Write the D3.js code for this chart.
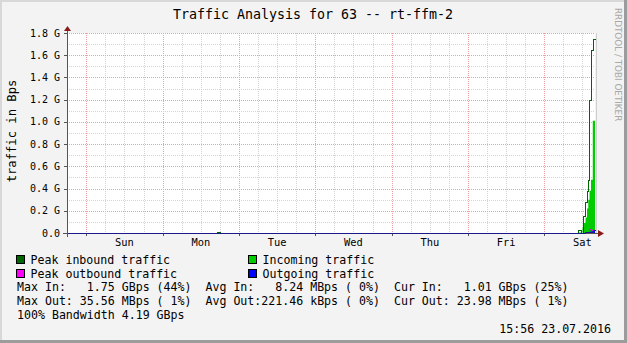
<html>
<head>
<script src="https://d3js.org/d3.v7.min.js"></script>
<style>
body { margin:0; background:#f3f3f3; }
text { font-family:"DejaVu Sans Mono", monospace; fill:#000; }
</style>
</head>
<body>
<script>
// chart data (G = 1e9 Bps)
var startTime = "2016-07-16 17:56", endTime = "2016-07-23 15:56";
var yTicks = [0, 0.2, 0.4, 0.6, 0.8, 1.0, 1.2, 1.4, 1.6, 1.8];

var inTimes  = ["2016-07-16 17:56","2016-07-23 10:32","2016-07-23 11:33","2016-07-23 12:01","2016-07-23 12:29","2016-07-23 12:58","2016-07-23 13:26","2016-07-23 13:49","2016-07-23 14:13","2016-07-23 14:41","2016-07-23 15:14","2016-07-23 15:56"];
var inValues = [0, 0.004, 0, 0.05, 0.09, 0.14, 0.22, 0.30, 0.38, 0.48, 1.01, 1.01];

var peakInTimes  = ["2016-07-16 17:56","2016-07-18 17:06","2016-07-18 18:02","2016-07-23 10:32","2016-07-23 11:33","2016-07-23 12:11","2016-07-23 12:48","2016-07-23 13:17","2016-07-23 13:41","2016-07-23 14:04","2016-07-23 14:45","2016-07-23 15:19","2016-07-23 15:56"];
var peakInValues = [0, 0.012, 0, 0.025, 0, 0.15, 0.28, 0.38, 0.48, 1.2, 1.65, 1.75, 1.75];

var outTimes  = ["2016-07-16 17:56","2016-07-23 12:48","2016-07-23 13:41","2016-07-23 14:13","2016-07-23 15:14","2016-07-23 15:56"];
var outValues = [0, 0.005, 0.01, 0.013, 0.024, 0.024];

var peakOutTimes  = ["2016-07-16 17:56","2016-07-23 12:48","2016-07-23 14:04","2016-07-23 14:45","2016-07-23 15:56"];
var peakOutValues = [0, 0.008, 0.036, 0.026, 0.026];

var legendItems = [
  {label:"Peak inbound traffic", color:"#006600", col:0, row:0},
  {label:"Incoming traffic", color:"#00cc00", col:1, row:0},
  {label:"Peak outbound traffic", color:"#ff00ff", col:0, row:1},
  {label:"Outgoing traffic", color:"#0000ff", col:1, row:1}
];
var statLines = [
  "Max In:   1.75 GBps (44%)  Avg In:   8.24 MBps ( 0%)  Cur In:   1.01 GBps (25%)",
  "Max Out: 35.56 MBps ( 1%)  Avg Out:221.46 kBps ( 0%)  Cur Out: 23.98 MBps ( 1%)",
  "100% Bandwidth 4.19 GBps"
];

var W = 627, H = 343;
var pL = 67, pR = 595, pT = 33, pB = 233;
var parse = d3.timeParse("%Y-%m-%d %H:%M");

var x = d3.scaleTime().domain([parse(startTime), parse(endTime)]).range([pL, pR]);
var y = d3.scaleLinear().domain([0, 1.8]).range([pB, pT]);

function series(times, values) {
  return times.map(function(t, i){ return {t:parse(t), v:values[i]}; });
}

var svg = d3.select("body").append("svg").attr("width", W).attr("height", H);

// frame
svg.append("rect").attr("width", W).attr("height", H).attr("fill", "#f3f3f3");
svg.append("rect").attr("x",0).attr("y",0).attr("width",W).attr("height",2).attr("fill","#d8d8d8");
svg.append("rect").attr("x",0).attr("y",0).attr("width",2).attr("height",H).attr("fill","#d8d8d8");
svg.append("rect").attr("x",W-3).attr("y",0).attr("width",3).attr("height",H).attr("fill","#9c9c9c");
svg.append("rect").attr("x",0).attr("y",H-3).attr("width",W).attr("height",3).attr("fill","#9c9c9c");

// plot background
svg.append("rect").attr("x", pL).attr("y", pT).attr("width", pR-pL).attr("height", pB-pT).attr("fill", "#fff");

// grid
var grid = svg.append("g").attr("shape-rendering", "crispEdges").attr("stroke-width", 1).attr("stroke-dasharray", "1,1");
var minorX = d3.timeHour.every(6).range(x.domain()[0], x.domain()[1]);
grid.selectAll(".vx").data(minorX).enter().append("line")
  .attr("x1", function(d){ return Math.round(x(d))+0.5; }).attr("x2", function(d){ return Math.round(x(d))+0.5; })
  .attr("y1", pT).attr("y2", pB)
  .attr("stroke", function(d){ return d.getHours() === 0 ? "#f0a0a0" : "#d4d4d4"; });
var minorY = d3.range(1, 19).map(function(i){ return i/10; });
grid.selectAll(".hy").data(minorY).enter().append("line")
  .attr("x1", pL).attr("x2", pR)
  .attr("y1", function(d){ return Math.round(y(d))+0.5; }).attr("y2", function(d){ return Math.round(y(d))+0.5; })
  .attr("stroke", function(d, i){ return (i % 2 === 1) ? "#f0a0a0" : "#d4d4d4"; });

// end-of-data marker line
svg.append("line").attr("x1", pR+1.5).attr("x2", pR+1.5).attr("y1", pT).attr("y2", pB)
  .attr("stroke", "#cfcfcf").attr("stroke-width", 1);

// axes
var axes = svg.append("g").attr("shape-rendering", "crispEdges");
axes.append("line").attr("x1", pL+0.5).attr("x2", pL+0.5).attr("y1", pB+4).attr("y2", pT-4).attr("stroke", "#555");
axes.append("line").attr("x1", pL-4).attr("x2", pR+4).attr("y1", pB+0.5).attr("y2", pB+0.5).attr("stroke", "#555");
axes.selectAll(".yt").data(yTicks).enter().append("line")
  .attr("x1", pL-3).attr("x2", pL).attr("y1", function(d){ return Math.round(y(d))+0.5; }).attr("y2", function(d){ return Math.round(y(d))+0.5; })
  .attr("stroke", "#555");
axes.selectAll(".xt").data(d3.timeDay.range(x.domain()[0], x.domain()[1])).enter().append("line")
  .attr("x1", function(d){ return Math.round(x(d))+0.5; }).attr("x2", function(d){ return Math.round(x(d))+0.5; })
  .attr("y1", pB).attr("y2", pB+3).attr("stroke", "#555");
svg.append("path").attr("d", "M"+(pL-3)+","+(pT-2)+"L"+(pL+0.5)+","+(pT-7)+"L"+(pL+4)+","+(pT-2)+"Z").attr("fill", "#8b1a1a");
svg.append("path").attr("d", "M"+(pR+3)+","+(pB-3)+"L"+(pR+9)+","+(pB+0.5)+"L"+(pR+3)+","+(pB+4)+"Z").attr("fill", "#8b1a1a");

// data (lines drawn on pixel centres so overlapping zero lines stack cleanly)
var area = d3.area().curve(d3.curveStepAfter).x(function(d){ return x(d.t); }).y0(y(0)).y1(function(d){ return y(d.v); });
var line = d3.line().curve(d3.curveStepAfter)
  .x(function(d){ return Math.round(x(d.t))+0.5; })
  .y(function(d){ return Math.round(y(d.v))+0.5; });

svg.append("path").datum(series(inTimes, inValues)).attr("d", area).attr("fill", "#00cc00");
svg.append("path").datum(series(outTimes, outValues)).attr("d", area).attr("fill", "#0000ff");
var lines = svg.append("g").attr("fill", "none").attr("stroke-width", 1).attr("shape-rendering", "crispEdges");
lines.append("path").datum(series(peakInTimes, peakInValues)).attr("d", line).attr("stroke", "#006600");
lines.append("path").datum(series(peakOutTimes, peakOutValues)).attr("d", line).attr("stroke", "#ff00ff");
lines.append("path").datum(series(outTimes, outValues)).attr("d", line).attr("stroke", "#1a1a8c");

// y labels
svg.selectAll(".ylab").data(yTicks).enter().append("text")
  .attr("x", 60).attr("y", function(d){ return y(d)+3.5; })
  .attr("text-anchor", "end").style("font-size", "10px")
  .text(function(d){ return d === 0 ? "0.0" : d3.format(".1f")(d)+" G"; });

// x labels at noon
var noons = d3.timeDay.range(x.domain()[0], x.domain()[1]).map(function(d){ return d3.timeHour.offset(d, 12); });
svg.selectAll(".xlab").data(noons).enter().append("text")
  .attr("x", function(d){ return x(d); }).attr("y", 245.5)
  .attr("text-anchor", "middle").style("font-size", "10.4px")
  .text(d3.timeFormat("%a"));

// title and axis title
svg.append("text").attr("x", 313).attr("y", 18.5).attr("text-anchor", "middle").style("font-size", "13.3px")
  .text("Traffic Analysis for 63 -- rt-ffm-2");
svg.append("text").attr("transform", "translate(16,131) rotate(-90)").attr("text-anchor", "middle").style("font-size", "12.2px")
  .text("traffic in Bps");

// watermark
svg.append("text").attr("transform", "translate(615,8) rotate(90)").style("font-family", "'DejaVu Sans', sans-serif")
  .style("font-size", "8.8px").style("fill", "#a8a8a8").text("RRDTOOL / TOBI OETIKER");

// legend
var lg = svg.selectAll(".lg").data(legendItems).enter().append("g")
  .attr("transform", function(d){ return "translate(" + (d.col ? 248 : 16) + "," + (255 + d.row*14) + ")"; });
lg.append("rect").attr("x", 0.5).attr("y", 0.5).attr("width", 8).attr("height", 8)
  .attr("fill", function(d){ return d.color; }).attr("stroke", "#000").attr("shape-rendering", "crispEdges");
lg.append("text").attr("x", 14.5).attr("y", 8.5).style("font-size", "11.6px").text(function(d){ return d.label; });

svg.selectAll(".st").data(statLines).enter().append("text")
  .attr("x", 17).attr("y", function(d, i){ return 291 + i*14.2; })
  .style("font-size", "11.6px").style("white-space", "pre").attr("xml:space", "preserve")
  .text(function(d){ return d; });

svg.append("text").attr("x", 611).attr("y", 333).attr("text-anchor", "end").style("font-size", "11.6px")
  .text("15:56 23.07.2016");
</script>
</body>
</html>
